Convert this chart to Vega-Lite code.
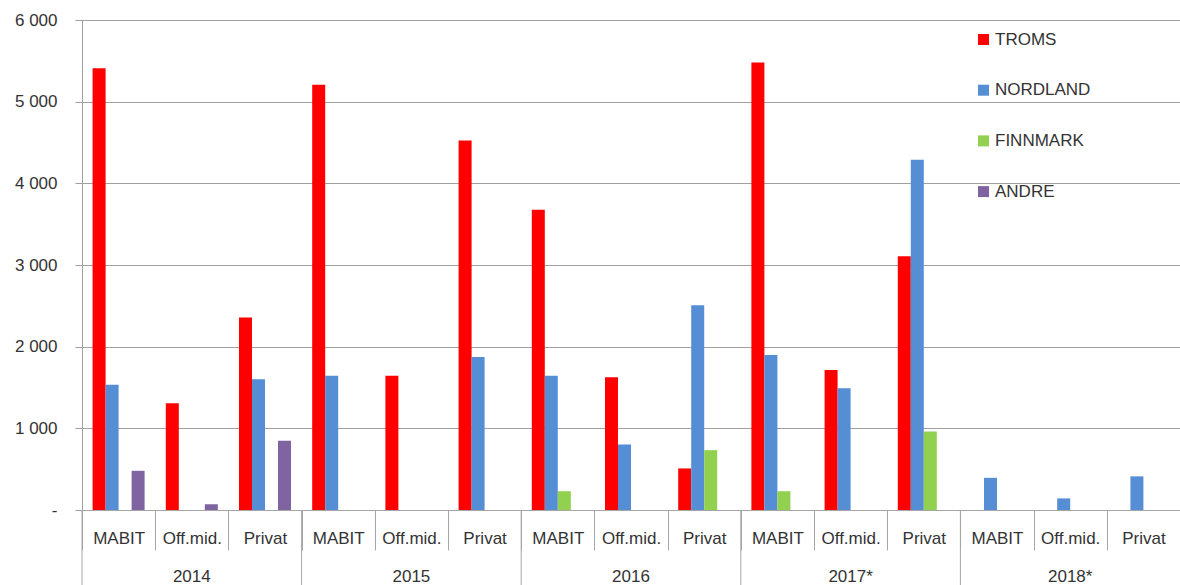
{
  "$schema": "https://vega.github.io/schema/vega-lite/v6.json",
  "width": 1098,
  "height": 490,
  "autosize": "none",
  "padding": {"left": 82, "top": 20, "right": 0, "bottom": 75},
  "config": {"view": {"stroke": null}, "font": "Liberation Sans"},
  "data": {"values": [
    {"year":"2014","cat":"MABIT","group":"2014 MABIT","series":"TROMS","value":5410},
    {"year":"2014","cat":"MABIT","group":"2014 MABIT","series":"NORDLAND","value":1535},
    {"year":"2014","cat":"MABIT","group":"2014 MABIT","series":"FINNMARK","value":0},
    {"year":"2014","cat":"MABIT","group":"2014 MABIT","series":"ANDRE","value":480},
    {"year":"2014","cat":"Off.mid.","group":"2014 Off.mid.","series":"TROMS","value":1306},
    {"year":"2014","cat":"Off.mid.","group":"2014 Off.mid.","series":"NORDLAND","value":0},
    {"year":"2014","cat":"Off.mid.","group":"2014 Off.mid.","series":"FINNMARK","value":0},
    {"year":"2014","cat":"Off.mid.","group":"2014 Off.mid.","series":"ANDRE","value":70},
    {"year":"2014","cat":"Privat","group":"2014 Privat","series":"TROMS","value":2356},
    {"year":"2014","cat":"Privat","group":"2014 Privat","series":"NORDLAND","value":1600},
    {"year":"2014","cat":"Privat","group":"2014 Privat","series":"FINNMARK","value":0},
    {"year":"2014","cat":"Privat","group":"2014 Privat","series":"ANDRE","value":848},
    {"year":"2015","cat":"MABIT","group":"2015 MABIT","series":"TROMS","value":5206},
    {"year":"2015","cat":"MABIT","group":"2015 MABIT","series":"NORDLAND","value":1645},
    {"year":"2015","cat":"MABIT","group":"2015 MABIT","series":"FINNMARK","value":0},
    {"year":"2015","cat":"MABIT","group":"2015 MABIT","series":"ANDRE","value":0},
    {"year":"2015","cat":"Off.mid.","group":"2015 Off.mid.","series":"TROMS","value":1645},
    {"year":"2015","cat":"Off.mid.","group":"2015 Off.mid.","series":"NORDLAND","value":0},
    {"year":"2015","cat":"Off.mid.","group":"2015 Off.mid.","series":"FINNMARK","value":0},
    {"year":"2015","cat":"Off.mid.","group":"2015 Off.mid.","series":"ANDRE","value":0},
    {"year":"2015","cat":"Privat","group":"2015 Privat","series":"TROMS","value":4523},
    {"year":"2015","cat":"Privat","group":"2015 Privat","series":"NORDLAND","value":1874},
    {"year":"2015","cat":"Privat","group":"2015 Privat","series":"FINNMARK","value":0},
    {"year":"2015","cat":"Privat","group":"2015 Privat","series":"ANDRE","value":0},
    {"year":"2016","cat":"MABIT","group":"2016 MABIT","series":"TROMS","value":3676},
    {"year":"2016","cat":"MABIT","group":"2016 MABIT","series":"NORDLAND","value":1645},
    {"year":"2016","cat":"MABIT","group":"2016 MABIT","series":"FINNMARK","value":230},
    {"year":"2016","cat":"MABIT","group":"2016 MABIT","series":"ANDRE","value":0},
    {"year":"2016","cat":"Off.mid.","group":"2016 Off.mid.","series":"TROMS","value":1627},
    {"year":"2016","cat":"Off.mid.","group":"2016 Off.mid.","series":"NORDLAND","value":802},
    {"year":"2016","cat":"Off.mid.","group":"2016 Off.mid.","series":"FINNMARK","value":0},
    {"year":"2016","cat":"Off.mid.","group":"2016 Off.mid.","series":"ANDRE","value":0},
    {"year":"2016","cat":"Privat","group":"2016 Privat","series":"TROMS","value":509},
    {"year":"2016","cat":"Privat","group":"2016 Privat","series":"NORDLAND","value":2507},
    {"year":"2016","cat":"Privat","group":"2016 Privat","series":"FINNMARK","value":733},
    {"year":"2016","cat":"Privat","group":"2016 Privat","series":"ANDRE","value":0},
    {"year":"2017*","cat":"MABIT","group":"2017* MABIT","series":"TROMS","value":5481},
    {"year":"2017*","cat":"MABIT","group":"2017* MABIT","series":"NORDLAND","value":1897},
    {"year":"2017*","cat":"MABIT","group":"2017* MABIT","series":"FINNMARK","value":230},
    {"year":"2017*","cat":"MABIT","group":"2017* MABIT","series":"ANDRE","value":0},
    {"year":"2017*","cat":"Off.mid.","group":"2017* Off.mid.","series":"TROMS","value":1714},
    {"year":"2017*","cat":"Off.mid.","group":"2017* Off.mid.","series":"NORDLAND","value":1490},
    {"year":"2017*","cat":"Off.mid.","group":"2017* Off.mid.","series":"FINNMARK","value":0},
    {"year":"2017*","cat":"Off.mid.","group":"2017* Off.mid.","series":"ANDRE","value":0},
    {"year":"2017*","cat":"Privat","group":"2017* Privat","series":"TROMS","value":3107},
    {"year":"2017*","cat":"Privat","group":"2017* Privat","series":"NORDLAND","value":4290},
    {"year":"2017*","cat":"Privat","group":"2017* Privat","series":"FINNMARK","value":962},
    {"year":"2017*","cat":"Privat","group":"2017* Privat","series":"ANDRE","value":0},
    {"year":"2018*","cat":"MABIT","group":"2018* MABIT","series":"TROMS","value":0},
    {"year":"2018*","cat":"MABIT","group":"2018* MABIT","series":"NORDLAND","value":394},
    {"year":"2018*","cat":"MABIT","group":"2018* MABIT","series":"FINNMARK","value":0},
    {"year":"2018*","cat":"MABIT","group":"2018* MABIT","series":"ANDRE","value":0},
    {"year":"2018*","cat":"Off.mid.","group":"2018* Off.mid.","series":"TROMS","value":0},
    {"year":"2018*","cat":"Off.mid.","group":"2018* Off.mid.","series":"NORDLAND","value":142},
    {"year":"2018*","cat":"Off.mid.","group":"2018* Off.mid.","series":"FINNMARK","value":0},
    {"year":"2018*","cat":"Off.mid.","group":"2018* Off.mid.","series":"ANDRE","value":0},
    {"year":"2018*","cat":"Privat","group":"2018* Privat","series":"TROMS","value":0},
    {"year":"2018*","cat":"Privat","group":"2018* Privat","series":"NORDLAND","value":412},
    {"year":"2018*","cat":"Privat","group":"2018* Privat","series":"FINNMARK","value":0},
    {"year":"2018*","cat":"Privat","group":"2018* Privat","series":"ANDRE","value":0}
  ]},
  "encoding": {
    "x": {
      "field": "group", "type": "nominal",
      "scale": {"paddingInner": 0, "paddingOuter": 0},
      "axis": {
        "title": null, "labelAngle": 0,
        "labelExpr": "split(datum.label, ' ')[1]",
        "tickBand": "extent", "tickSize": 40, "tickColor": "#a6a6a6", "tickWidth": 1,
        "domainColor": "#a6a6a6", "labelPadding": -20,
        "labelFontSize": 17, "labelColor": "#333333", "labelFont": "Liberation Sans"
      }
    }
  },
  "layer": [
    {
      "mark": {"type": "bar"},
      "encoding": {
        "xOffset": {"field": "series", "type": "nominal", "sort": ["TROMS", "NORDLAND", "FINNMARK", "ANDRE"], "scale": {"paddingInner": 0, "paddingOuter": 0.815}},
        "y": {
          "field": "value", "type": "quantitative",
          "scale": {"domain": [0, 6000], "nice": false},
          "axis": {
            "title": null, "values": [0, 1000, 2000, 3000, 4000, 5000, 6000],
            "labelExpr": "datum.value == 0 ? '-' : replace(format(datum.value, ','), ',', ' ')",
            "grid": true, "gridColor": "#a0a0a0", "gridWidth": 1.2,
            "domainColor": "#a0a0a0", "tickColor": "#a0a0a0", "tickSize": 7,
            "labelPadding": 18, "labelFontSize": 17, "labelColor": "#333333", "labelFont": "Liberation Sans"
          }
        },
        "color": {
          "field": "series", "type": "nominal",
          "scale": {"domain": ["TROMS", "NORDLAND", "FINNMARK", "ANDRE"], "range": ["#ff0000", "#558ed5", "#92d050", "#8064a2"]},
          "legend": {
            "title": null, "orient": "none", "legendX": 893, "legendY": 11, "direction": "vertical",
            "symbolType": "square", "symbolSize": 121, "symbolStrokeWidth": 0,
            "labelFontSize": 17, "labelColor": "#333333", "labelFont": "Liberation Sans",
            "rowPadding": 32.7, "labelOffset": 3
          }
        }
      }
    },
    {
      "transform": [{"filter": "datum.cat == 'MABIT' && datum.series == 'TROMS'"}],
      "mark": {"type": "rule", "clip": false, "y2Offset": 75, "color": "#a6a6a6", "strokeWidth": 1},
      "encoding": {
        "x": {"field": "group", "type": "nominal", "bandPosition": 0},
        "y": {"datum": 0, "type": "quantitative", "title": null},
        "y2": {"datum": 0}
      }
    },
    {
      "transform": [{"filter": "datum.cat == 'Off.mid.' && datum.series == 'TROMS'"}],
      "mark": {"type": "text", "clip": false, "dy": 67, "baseline": "middle", "fontSize": 17, "color": "#333333", "font": "Liberation Sans"},
      "encoding": {
        "text": {"field": "year"},
        "y": {"datum": 0, "type": "quantitative", "title": null}
      }
    }
  ]
}
